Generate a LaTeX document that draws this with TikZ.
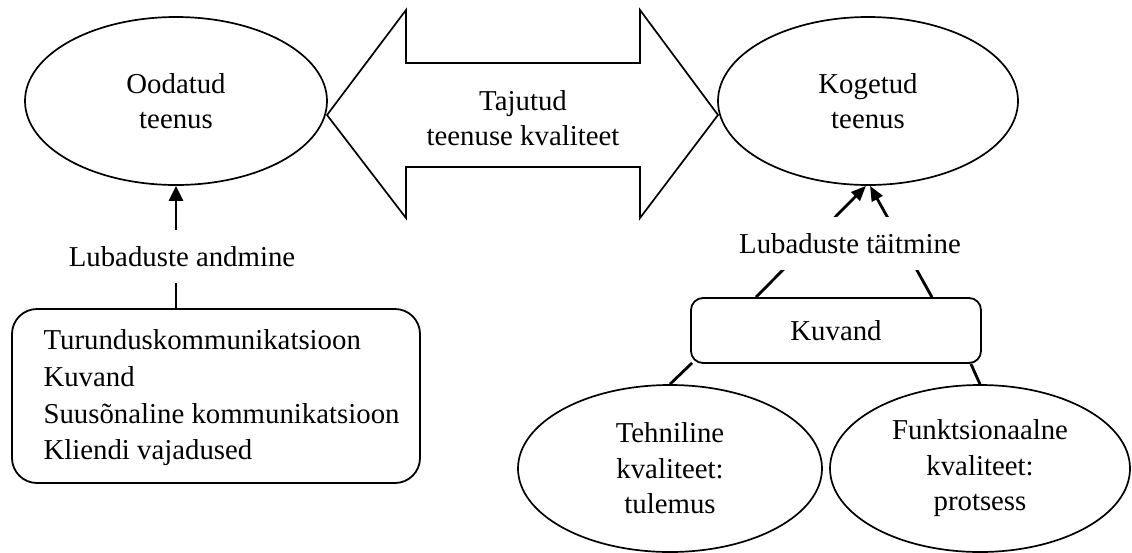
\documentclass[tikz,border=0pt]{standalone}
\usepackage{fontspec}
\setmainfont{Liberation Serif}
\usetikzlibrary{shapes.geometric,arrows.meta,calc}
\begin{document}
\begin{tikzpicture}[x=1pt,y=-1pt,
  every node/.style={font=\fontsize{28.8}{35.5}\selectfont},
  oval/.style={draw,ellipse,line width=1.7pt,inner sep=0pt,align=center},
  rbox/.style={draw,rounded corners=#1,line width=1.8pt,inner sep=0pt},
  conn/.style={line width=2.8pt},
  uptip/.style={-{Triangle[length=15pt,width=14pt]}},
  slanttip/.style={-{Triangle[length=15pt,width=12pt]}},
  gaplabel/.style={fill=white,inner xsep=2pt,inner ysep=0pt,minimum height=53pt}
]
\useasboundingbox (0,0) rectangle (1132,552);

% double arrow between the two service ellipses
\draw[line width=1.7pt,line join=miter]
  (327,115) -- (406,10) -- (406,63) -- (640,63) -- (640,10) -- (718,115)
  -- (640,218) -- (640,167) -- (406,167) -- (406,218) -- cycle;
\node[align=center] (taj) at (523,118) {Tajutud\\teenuse kvaliteet};

% top ellipses
\node[oval,minimum width=302pt,minimum height=168pt] (ood) at (176,101) {Oodatud\\teenus};
\node[oval,minimum width=300pt,minimum height=168pt] (kog) at (868,101) {Kogetud\\teenus};

% left list box
\node[rbox=25pt,minimum width=408pt,minimum height=174pt] (lst) at (216,396) {};
\node[anchor=west,align=left,font=\fontsize{28.8}{36.7}\selectfont] (lsttxt) at (40,398)
  {Turunduskommunikatsioon\\Kuvand\\Suusõnaline kommunikatsioon\\Kliendi vajadused};

% right image box and quality ellipses
\node[rbox=12pt,minimum width=290pt,minimum height=65pt] (kuv) at (836,330.5) {Kuvand};
\node[oval,minimum width=304pt,minimum height=167pt] (tek) at (670,468.5) {Tehniline\\kvaliteet:\\tulemus};
\node[oval,minimum width=300pt,minimum height=167pt] (fun) at (980,468.5) {Funktsionaalne\\kvaliteet:\\protsess};

% connectors
\draw[conn,uptip] (lst.north -| ood.south) -- (ood.south);
\draw[conn,slanttip] ($(kuv.north west)+(66,0)$) -- ($(kog.south)+(-2,0)$);
\draw[conn,slanttip] ($(kuv.north east)+(-50,0)$) -- ($(kog.south)+(2,0)$);
\draw[conn] ($(kuv.south west)+(2,-1)$) -- (tek.north);
\draw[conn] ($(kuv.south east)+(-11,0)$) -- (fun.north);

% labels sitting on the connectors
\node[gaplabel] (lub1) at (182,256.5) {Lubaduste andmine};
\node[gaplabel] (lub2) at (850,243.5) {Lubaduste täitmine};
\end{tikzpicture}
\end{document}
